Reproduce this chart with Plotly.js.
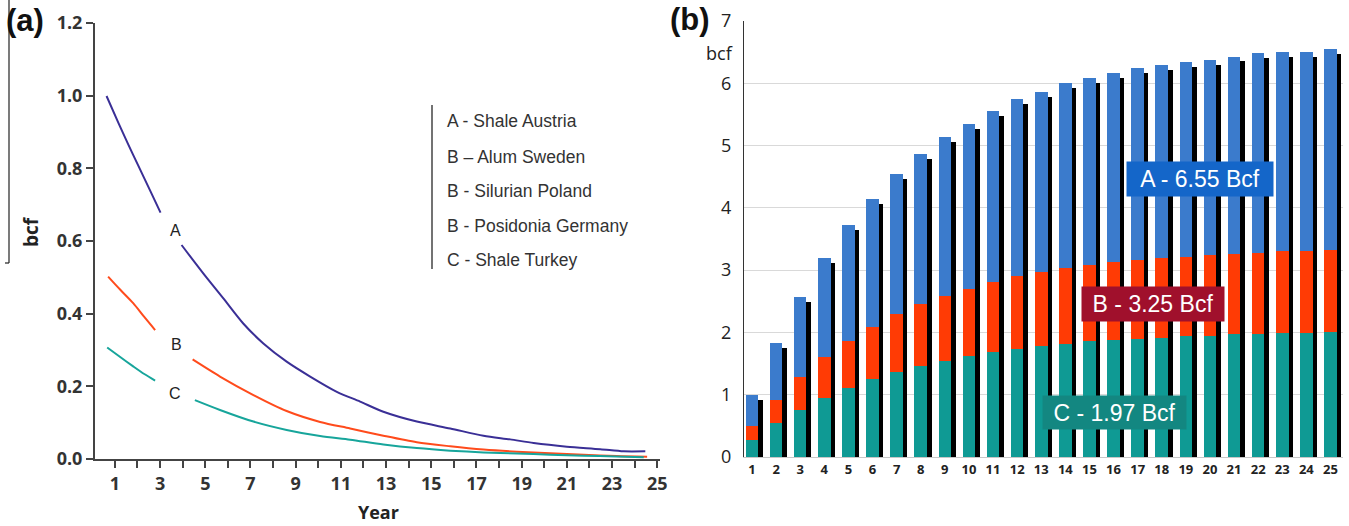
<!DOCTYPE html>
<html>
<head>
<meta charset="utf-8">
<script src="https://cdn.plot.ly/plotly-3.0.1.min.js"></script>
<style>html,body{margin:0;padding:0;background:#fff;}#chart{width:1349px;height:526px;}</style>
</head>
<body>
<div id="chart"></div>
<script>
// ---------- Panel (a): annual production per well (bcf) ----------
const yearsA  = [0.63, 1.15, 1.59, 2.03, 2.55, 3.02, 3.5, 3.95, 4.91, 5.80, 6.68, 7.57, 8.60, 9.64, 10.82, 11.85, 12.88, 14.36, 15.84, 17.31, 18.49, 19.53, 21.0, 22.48, 23.51, 24.47];
const valuesA = [0.999, 0.926, 0.866, 0.808, 0.740, 0.678, null, 0.589, 0.511, 0.442, 0.373, 0.318, 0.268, 0.227, 0.185, 0.158, 0.130, 0.103, 0.084, 0.064, 0.054, 0.044, 0.034, 0.027, 0.021, 0.021];

const yearsB  = [0.70, 1.25, 1.81, 2.30, 2.78, 3.6, 4.44, 5.65, 7.13, 8.60, 10.08, 11.41, 12.88, 14.36, 15.84, 17.31, 18.79, 20.26, 21.74, 23.2, 24.55];
const valuesB = [0.502, 0.465, 0.429, 0.391, 0.355, null, 0.274, 0.227, 0.176, 0.132, 0.102, 0.084, 0.064, 0.046, 0.035, 0.026, 0.020, 0.016, 0.012, 0.008, 0.006];

const yearsC  = [0.66, 1.25, 1.81, 2.30, 2.78, 3.6, 4.54, 5.65, 7.13, 8.60, 10.08, 11.41, 12.88, 14.36, 15.84, 17.31, 18.79, 20.26, 21.74, 23.2, 24.4];
const valuesC = [0.307, 0.280, 0.255, 0.234, 0.216, null, 0.162, 0.135, 0.103, 0.080, 0.063, 0.053, 0.040, 0.030, 0.023, 0.018, 0.015, 0.012, 0.009, 0.007, 0.005];

const yearTicks = [1,2,3,4,5,6,7,8,9,10,11,12,13,14,15,16,17,18,19,20,21,22,23,24,25];
const yearTickText = ["1","","3","","5","","7","","9","","11","","13","","15","","17","","19","","21","","23","","25"];

const legendLines = ["A - Shale Austria", "B \u2013 Alum Sweden", "B - Silurian Poland", "B - Posidonia Germany", "C - Shale Turkey"];

// ---------- Panel (b): cumulative production (bcf) ----------
const barYears = [1,2,3,4,5,6,7,8,9,10,11,12,13,14,15,16,17,18,19,20,21,22,23,24,25];
const cumA = [1.0, 1.83, 2.57, 3.19, 3.72, 4.15, 4.54, 4.86, 5.13, 5.34, 5.55, 5.74, 5.86, 6.0, 6.08, 6.17, 6.25, 6.30, 6.34, 6.38, 6.43, 6.48, 6.51, 6.51, 6.55];
const cumB = [0.49, 0.91, 1.29, 1.60, 1.87, 2.09, 2.30, 2.46, 2.58, 2.70, 2.81, 2.91, 2.97, 3.04, 3.08, 3.13, 3.17, 3.20, 3.21, 3.24, 3.26, 3.28, 3.31, 3.31, 3.33];
const cumC = [0.27, 0.54, 0.76, 0.95, 1.11, 1.26, 1.37, 1.46, 1.54, 1.62, 1.69, 1.74, 1.79, 1.82, 1.86, 1.88, 1.90, 1.91, 1.94, 1.95, 1.97, 1.97, 1.99, 1.99, 2.0];
const boxLabels = ["A - 6.55 Bcf", "B - 3.25 Bcf", "C - 1.97 Bcf"];

// ---------- helpers (pixel -> paper) ----------
const W = 1349, H = 526;
const px = x => x / W;
const py = y => 1 - y / H;

const colA = "#3a2f96", colB = "#ff4b1c", colC = "#17a59b";
const barBlue = "#3b7bcc", barRed = "#ff3b05", barTeal = "#0f9a94";

const traces = [
  {x: yearsA, y: valuesA, type: "scatter", mode: "lines", line: {color: colA, width: 2, shape: "spline", smoothing: 0.8}, connectgaps: false, xaxis: "x", yaxis: "y", hoverinfo: "skip"},
  {x: yearsB, y: valuesB, type: "scatter", mode: "lines", line: {color: colB, width: 2, shape: "spline", smoothing: 0.8}, connectgaps: false, xaxis: "x", yaxis: "y", hoverinfo: "skip"},
  {x: yearsC, y: valuesC, type: "scatter", mode: "lines", line: {color: colC, width: 2, shape: "spline", smoothing: 0.8}, connectgaps: false, xaxis: "x", yaxis: "y", hoverinfo: "skip"},
  // drop shadow behind the blue bars
  {x: barYears, y: cumA, base: -0.08, type: "bar", width: 0.52, offset: -0.07, marker: {color: "#000", line: {width: 0}}, xaxis: "x2", yaxis: "y2", hoverinfo: "skip"},
  {x: barYears, y: cumA, type: "bar", width: 0.52, offset: -0.26, marker: {color: barBlue, line: {width: 0}}, xaxis: "x2", yaxis: "y2", hoverinfo: "skip"},
  {x: barYears, y: cumB, type: "bar", width: 0.52, offset: -0.26, marker: {color: barRed, line: {width: 0}}, xaxis: "x2", yaxis: "y2", hoverinfo: "skip"},
  {x: barYears, y: cumC, type: "bar", width: 0.52, offset: -0.26, marker: {color: barTeal, line: {width: 0}}, xaxis: "x2", yaxis: "y2", hoverinfo: "skip"}
];

const tickFontA = {family: "Open Sans, sans-serif", size: 18, color: "#333", weight: "bold"};
const sans = "Liberation Sans, Arial, sans-serif";

function ann(text, x, y, font, extra) {
  return Object.assign({text: text, x: px(x), y: py(y), xref: "paper", yref: "paper", xanchor: "center", yanchor: "middle", showarrow: false, font: font}, extra || {});
}

const annotations = [
  ann("(a)", 25, 21, {family: sans, size: 31, color: "#111", weight: "bold"}),
  ann("(b)", 690, 20, {family: sans, size: 31, color: "#111", weight: "bold"}),
  ann("bcf", 31, 232, {family: "Open Sans, sans-serif", size: 19, color: "#222", weight: "bold"}, {textangle: -90}),
  ann("Year", 378, 512, {family: "Open Sans, sans-serif", size: 18, color: "#222", weight: "bold"}),
  ann("bcf", 719, 53, {family: "Open Sans, sans-serif", size: 18, color: "#222"}),
  ann("A", 175, 230, {family: sans, size: 16, color: "#222"}),
  ann("B", 176, 344, {family: sans, size: 16, color: "#222"}),
  ann("C", 175, 393, {family: sans, size: 16, color: "#222"}),
  ann(boxLabels[0], 1200, 179, {family: sans, size: 23, color: "#fff"}, {bgcolor: "#1466c9", width: 142, height: 30, borderpad: 2}),
  ann(boxLabels[1], 1153, 304, {family: sans, size: 23, color: "#fff"}, {bgcolor: "#a0102c", width: 138, height: 30, borderpad: 2}),
  ann(boxLabels[2], 1114, 412, {family: sans, size: 23, color: "#fff"}, {bgcolor: "#138781", width: 139, height: 29, borderpad: 2})
];
const legendY = [121, 157, 191, 226, 260];
legendLines.forEach((t, i) => annotations.push(
  ann(t, 445, legendY[i], {family: sans, size: 17.5, color: "#333"}, {xanchor: "left"})
));

const shapes = [
  {type: "line", xref: "paper", yref: "paper", x0: px(432), x1: px(432), y0: py(105), y1: py(269), line: {color: "#444", width: 1.5}},
  {type: "line", xref: "paper", yref: "paper", x0: px(9), x1: px(9), y0: py(0), y1: py(263), line: {color: "#222", width: 1.2}},
  {type: "line", xref: "paper", yref: "paper", x0: px(5), x1: px(9), y0: py(263), y1: py(263), line: {color: "#222", width: 1.2}}
];

const layout = {
  width: W, height: H,
  margin: {l: 0, r: 0, t: 0, b: 0},
  paper_bgcolor: "#fff", plot_bgcolor: "rgba(0,0,0,0)",
  showlegend: false,
  barmode: "overlay", bargap: 0,
  xaxis: {domain: [px(95), px(660)], range: [0.12, 25.12], tickmode: "array", tickvals: yearTicks, ticktext: yearTickText,
          showgrid: false, zeroline: false, showline: true, linecolor: "#444", linewidth: 2,
          ticks: "outside", ticklen: 7, tickwidth: 2, tickcolor: "#444", tickfont: tickFontA, anchor: "y"},
  yaxis: {domain: [py(459), py(23)], range: [0, 1.2], tickvals: [0, 0.2, 0.4, 0.6, 0.8, 1.0, 1.2], ticktext: ["0.0","0.2","0.4","0.6","0.8","1.0","1.2"],
          showgrid: false, zeroline: false, showline: true, linecolor: "#444", linewidth: 2,
          ticks: "outside", ticklen: 7, tickwidth: 2, tickcolor: "#444", tickfont: tickFontA, anchor: "x"},
  xaxis2: {domain: [px(744), px(1343)], range: [0.668, 25.52], tickmode: "array", tickvals: barYears,
           showgrid: false, zeroline: false, showline: true, linecolor: "#c8c8c8", linewidth: 1, ticks: "",
           tickfont: {family: "Open Sans, sans-serif", size: 13, color: "#222", weight: "bold"}, anchor: "y2"},
  yaxis2: {domain: [py(457), py(21)], range: [0, 7], tickvals: [0,1,2,3,4,5,6,7],
           showgrid: true, gridcolor: "#d9d9d9", gridwidth: 1, zeroline: false, showline: true, linecolor: "#333", linewidth: 1,
           ticks: "", ticklabelstandoff: 8,
           tickfont: {family: "Open Sans, sans-serif", size: 18, color: "#222"}, anchor: "x2"},
  annotations: annotations,
  shapes: shapes
};

Plotly.newPlot("chart", traces, layout, {staticPlot: true, displayModeBar: false});
</script>
</body>
</html>
